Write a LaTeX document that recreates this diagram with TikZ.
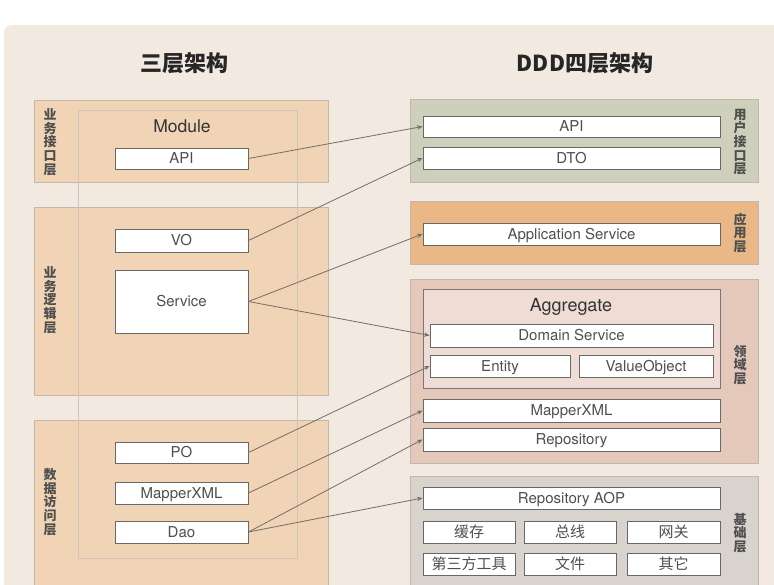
\documentclass[tikz,border=0pt]{standalone}
\usepackage{fontspec}
\setmainfont{TeX Gyre Heros}
\newfontfamily\cjk{Noto Sans CJK SC}
\usetikzlibrary{arrows.meta}
\definecolor{bgc}{HTML}{F2E9E1}
\definecolor{leftc}{HTML}{F0D4B5}
\definecolor{greenc}{HTML}{CFD0BB}
\definecolor{orangec}{HTML}{EAB886}
\definecolor{domc}{HTML}{E4C9BB}
\definecolor{aggc}{HTML}{EFDDD5}
\definecolor{infc}{HTML}{D9D3CD}
\definecolor{panelb}{HTML}{C4B6A9}
\definecolor{boxb}{HTML}{6A6866}
\definecolor{txtc}{HTML}{4F4F4F}
\definecolor{arrc}{HTML}{736E66}
\tikzset{
  panel/.style={draw=panelb, line width=0.8pt, rectangle},
  wbox/.style={draw=boxb, line width=0.9pt, fill=white, inner sep=0pt, font=\fontsize{15}{16}\selectfont, text=txtc, text height=10.8pt, text depth=0pt},
  vlab/.style={font=\cjk\bfseries\fontsize{13}{13.7}\selectfont, align=center, text=txtc, inner sep=0pt},
  cbox/.style={wbox, font=\cjk\fontsize{15}{16}\selectfont, text height=11.2pt},
  conn/.style={draw=arrc, line width=0.8pt},
  arr/.style={conn, -{Stealth[length=5.5pt,width=4.5pt]}},
}
\begin{document}
\begin{tikzpicture}[x=1pt,y=-1pt]
\useasboundingbox (0,0) rectangle (774,584);
\fill[white] (0,0) rectangle (774,584);
\fill[bgc, rounded corners=8pt] (4,25) rectangle (790,600);

% titles
\node[font=\cjk\bfseries\fontsize{22}{24}\selectfont, text=black!85] (t1) at (184,63) {三层架构};
\node[font=\cjk\bfseries\fontsize{22}{24}\selectfont, text=black!85] (t2) at (585,63) {DDD四层架构};

% left panels
\path[panel, fill=leftc] (34,100) rectangle (328,182);
\path[panel, fill=leftc] (34,207) rectangle (328,395);
\path[panel, fill=leftc] (34,420) rectangle (328,600);
\path[draw=panelb!80, line width=0.6pt] (78,110) rectangle (297,558);
\node[font=\fontsize{17.5}{19}\selectfont, text=black!80] (mod) at (182,126) {Module};

\node[vlab] (l1) at (50,142) {业\\务\\接\\口\\层};
\node[vlab] (l2) at (50,300) {业\\务\\逻\\辑\\层};
\node[vlab] (l3) at (50,502) {数\\据\\访\\问\\层};

\node[wbox, minimum width=133pt, minimum height=21pt] (lapi) at (181.5,158.5) {API};
\node[wbox, minimum width=133pt, minimum height=23pt] (vo) at (181.5,240.5) {VO};
\node[wbox, minimum width=133pt, minimum height=63pt] (svc) at (181.5,301.5) {Service};
\node[wbox, minimum width=133pt, minimum height=21pt] (po) at (181.5,452.5) {PO};
\node[wbox, minimum width=133pt, minimum height=22pt] (lmx) at (181.5,493) {MapperXML};
\node[wbox, minimum width=133pt, minimum height=22pt] (dao) at (181.5,532) {Dao};

% right panels
\path[panel, fill=greenc] (410,99) rectangle (758,182);
\path[panel, fill=orangec] (410,201) rectangle (758,264);
\path[panel, fill=domc] (410,279) rectangle (758,463);
\path[panel, fill=infc] (410,476) rectangle (758,600);
\path[draw=boxb!90, line width=0.9pt, fill=aggc] (423,289) rectangle (720,388);
\node[font=\fontsize{18}{19}\selectfont, text=black!80] (agg) at (571,307) {Aggregate};

\node[vlab] (r1) at (740,142) {用\\户\\接\\口\\层};
\node[vlab] (r2) at (740,233) {应\\用\\层};
\node[vlab] (r3) at (740,365) {领\\域\\层};
\node[vlab] (r4) at (740,533) {基\\础\\层};

\node[wbox, minimum width=297pt, minimum height=21pt] (rapi) at (571.5,126.5) {API};
\node[wbox, minimum width=297pt, minimum height=22pt] (dto) at (571.5,158) {DTO};
\node[wbox, minimum width=297pt, minimum height=22pt] (app) at (571.5,234) {Application Service};
\node[wbox, minimum width=283pt, minimum height=23pt] (dsvc) at (571.5,335.5) {Domain Service};
\node[wbox, minimum width=140pt, minimum height=22pt] (ent) at (500,366) {Entity};
\node[wbox, minimum width=134pt, minimum height=22pt] (vobj) at (646,366) {ValueObject};
\node[wbox, minimum width=297pt, minimum height=23pt] (rmx) at (571.5,410.5) {MapperXML};
\node[wbox, minimum width=297pt, minimum height=23pt] (repo) at (571.5,439.5) {Repository};
\node[wbox, minimum width=297pt, minimum height=22pt] (aop) at (571.5,498) {Repository AOP};
\node[cbox, minimum width=92pt, minimum height=22pt] (c1) at (469,532) {缓存};
\node[cbox, minimum width=92pt, minimum height=22pt] (c2) at (570,532) {总线};
\node[cbox, minimum width=93pt, minimum height=22pt] (c3) at (673.5,532) {网关};
\node[cbox, minimum width=92pt, minimum height=22pt] (c4) at (469,564) {第三方工具};
\node[cbox, minimum width=92pt, minimum height=22pt] (c5) at (570,564) {文件};
\node[cbox, minimum width=93pt, minimum height=22pt] (c6) at (673.5,564) {其它};

% connectors
\draw[arr] (lapi.east) -- (rapi.west);
\draw[arr] (vo.east) -- (dto.west);
\draw[arr] (svc.east) -- (app.west);
\draw[arr] (svc.east) -- (dsvc.west);
\draw[arr] (po.east) -- (ent.west);
\draw[arr] (lmx.east) -- (rmx.west);
\draw[arr] (dao.east) -- (repo.west);
\draw[arr] (dao.east) -- (aop.west);
\end{tikzpicture}
\end{document}
